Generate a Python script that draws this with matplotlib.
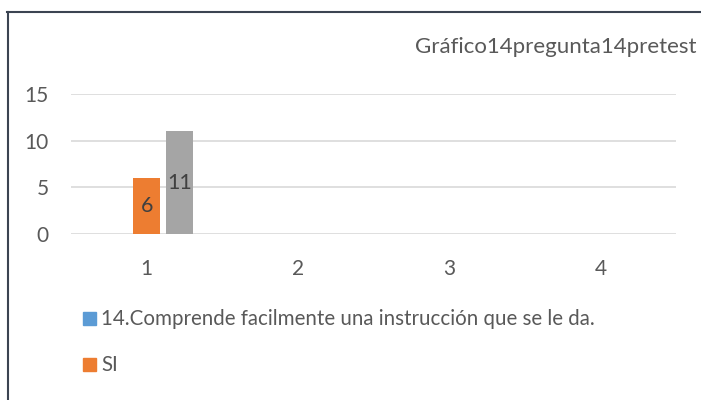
import matplotlib.pyplot as plt
import numpy as np
from matplotlib.lines import Line2D

categories = ['1', '2', '3', '4']
serie_pregunta = [np.nan, np.nan, np.nan, np.nan]
serie_si = [6, np.nan, np.nan, np.nan]
serie_no = [11, np.nan, np.nan, np.nan]
label_pregunta = '14.Comprende facilmente una instrucción que se le da.'
label_si = 'SI'
title = 'Gráfico14pregunta14pretest'

W, H = 701, 400
plt.rcParams['font.family'] = ['Lato', 'DejaVu Sans']
txt = '#595959'

fig = plt.figure(figsize=(W/100, H/100), dpi=100)
ax = fig.add_axes([71/W, 1-234/H, (676-71)/W, (234-94)/H])

x = np.arange(len(categories))
bw = 27/151.0
step = 33/151.0
ax.bar(x - step, serie_pregunta, bw, color='#5b9bd5')
b_si = ax.bar(x, serie_si, bw, color='#ed7d31')
b_no = ax.bar(x + step, serie_no, bw, color='#a5a5a5')
for bars, vals in ((b_si, serie_si), (b_no, serie_no)):
    for r, v in zip(bars, vals):
        if not np.isnan(v):
            ax.text(r.get_x() + r.get_width()/2, v/2, '%d' % v, ha='center', va='center',
                    fontsize=15.5, color='#404040')

ax.set_xlim(-0.5, len(categories)-0.5)
ax.set_ylim(0, 15)
ax.set_yticks([0, 5, 10, 15])
ax.set_xticks(x)
ax.set_xticklabels(categories)
ax.grid(axis='y', color='#d9d9d9', linewidth=1.2)
ax.set_axisbelow(True)
for s in ax.spines.values():
    s.set_visible(False)
ax.tick_params(length=0, labelsize=15, labelcolor=txt)
ax.tick_params(axis='y', pad=16)
ax.tick_params(axis='x', pad=18)

fig.text(697/W, 1-47/H, title, ha='right', va='center', fontsize=16, color=txt)

# legend drawn by hand
for yy, col, lab in ((319, '#5b9bd5', label_pregunta), (365, '#ed7d31', label_si)):
    fig.patches.append(plt.Rectangle((83/W, 1-(yy+6)/H), 13/W, 13/H, transform=fig.transFigure,
                                     color=col, figure=fig))
    fig.text(101/W, 1-yy/H, lab, ha='left', va='center', fontsize=14.8, color=txt)

# outer frame (left and top edges only visible)
fig.add_artist(Line2D([7.5/W, 7.5/W], [0, 1-12/H], color='#3b4452', linewidth=1.5))
fig.add_artist(Line2D([7/W, 1], [1-12/H, 1-12/H], color='#3b4452', linewidth=1.5))

fig.savefig('out.png', dpi=100)
